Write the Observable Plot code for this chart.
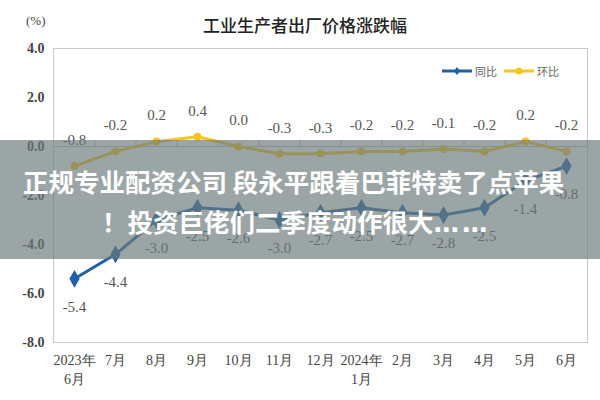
<!DOCTYPE html>
<html><head><meta charset="utf-8">
<script src="https://cdn.jsdelivr.net/npm/d3@7"></script>
<script src="https://cdn.jsdelivr.net/npm/@observablehq/plot@0.6"></script>
<style>
body{margin:0;background:#fff}
#wrap{position:relative;width:600px;height:400px;overflow:hidden;background:#fff}
#title{position:absolute;left:0;width:610px;top:12px;text-align:center;font-family:"Noto Sans CJK SC";font-weight:500;font-size:17px;color:#222}
#unit{position:absolute;left:26px;top:13px;font-family:"Liberation Serif";font-size:13px;color:#444}
#legend{position:absolute;left:441px;top:63px;font-family:"Noto Sans CJK SC";font-size:11px;color:#666;display:flex;align-items:center}
#legend span{margin-right:6px;margin-left:2px}
#banner{position:absolute;left:0;top:140px;width:600px;height:119px;background:rgba(108,122,122,0.68)}
.bl{position:absolute;font-family:"Noto Sans CJK SC";font-weight:700;color:#fff;font-size:25.5px;white-space:pre;line-height:1}
.ell{font-family:"DejaVu Sans";font-weight:700;letter-spacing:3px}
</style></head><body><div id="wrap"></div>
<script>
const months = ["2023年\n6月","7月","8月","9月","10月","11月","12月","2024年\n1月","2月","3月","4月","5月","6月"];
const yoy = [-5.4,-4.4,-3.0,-2.5,-2.6,-3.0,-2.7,-2.5,-2.7,-2.8,-2.5,-1.4,-0.8];
const mom = [-0.8,-0.2,0.2,0.4,0.0,-0.3,-0.3,-0.2,-0.2,-0.1,-0.2,0.2,-0.2];
const yTicks = [-8,-6,-4,-2,0,2,4];
const seriesNames = ["同比","环比"];
const titleText = "工业生产者出厂价格涨跌幅";
const bannerLine1 = "正规专业配资公司 段永平跟着巴菲特卖了点苹果";
const bannerLine2 = "！投资巨佬们二季度动作很大";
const bannerEllipsis = "……";

const blue = "#1f5fa8", yellow = "#f7c51c";
const yoyData = months.map((m,i)=>({m, v: yoy[i]}));
const momData = months.map((m,i)=>({m, v: mom[i]}));
const serif = "Liberation Serif";

const chart = Plot.plot({
  width: 600, height: 400,
  marginLeft: 53, marginRight: 13, marginTop: 48, marginBottom: 58,
  style: {fontFamily: serif, background: "#fff"},
  x: {type: "point", domain: months, padding: 0.5, label: null},
  y: {domain: [-8, 4], ticks: yTicks, label: null},
  marks: [
    Plot.frame({stroke: "#c9c9c9"}),
    Plot.ruleY([0], {stroke: "#bdbdbd"}),
    Plot.ruleX(months.slice(1), {x: d => d, dx: -20.5, y1: 0, y2: 0.25, stroke: "#bdbdbd"}),
    Plot.axisY({ticks: yTicks, tickSize: 0, tickPadding: 9, tickFormat: d => d.toFixed(1), fontSize: 14, fill: "#444", fontWeight: "bold", label: null}),
    Plot.axisX({tickSize: 0, tickPadding: 9, fontSize: 14, fill: "#444", lineHeight: 1.35, label: null}),
    Plot.line(yoyData, {x: "m", y: "v", stroke: blue, strokeWidth: 3}),
    Plot.dot(yoyData, {x: "m", y: "v", symbol: "diamond", r: 4.5, fill: blue, stroke: blue}),
    Plot.line(momData, {x: "m", y: "v", stroke: yellow, strokeWidth: 3}),
    Plot.dot(momData, {x: "m", y: "v", symbol: "circle", r: 4, fill: yellow}),
    Plot.text(yoyData, {x: "m", y: "v", text: d => d.v.toFixed(1), dy: 28, fontSize: 15, fill: "#555"}),
    Plot.text(momData, {x: "m", y: "v", text: d => d.v.toFixed(1), dy: -26, fontSize: 15, fill: "#555"})
  ]
});

const wrap = document.getElementById("wrap");
wrap.appendChild(chart);
const t = document.createElement("div"); t.id = "title"; t.textContent = titleText; wrap.appendChild(t);
const u = document.createElement("div"); u.id = "unit"; u.textContent = "(%)"; wrap.appendChild(u);
const lg = document.createElement("div"); lg.id = "legend";
lg.innerHTML =
  `<svg width="32" height="10"><line x1="1" y1="5" x2="31" y2="5" stroke="${blue}" stroke-width="3"/><path d="M16 1 L19 5 L16 9 L13 5Z" fill="${blue}"/></svg><span>${seriesNames[0]}</span>` +
  `<svg width="32" height="10"><line x1="1" y1="5" x2="31" y2="5" stroke="${yellow}" stroke-width="3"/><circle cx="16" cy="5" r="3.5" fill="${yellow}"/></svg><span>${seriesNames[1]}</span>`;
wrap.appendChild(lg);
const b = document.createElement("div"); b.id = "banner"; wrap.appendChild(b);
const l1 = document.createElement("div"); l1.className = "bl"; l1.textContent = bannerLine1;
l1.style.left = "23px"; l1.style.top = "168px";
wrap.appendChild(l1);
const l2 = document.createElement("div"); l2.className = "bl";
l2.appendChild(document.createTextNode(bannerLine2));
const es = document.createElement("span"); es.className = "ell"; es.textContent = bannerEllipsis; l2.appendChild(es);
l2.style.left = "102px"; l2.style.top = "208px";
wrap.appendChild(l2);
</script></body></html>
